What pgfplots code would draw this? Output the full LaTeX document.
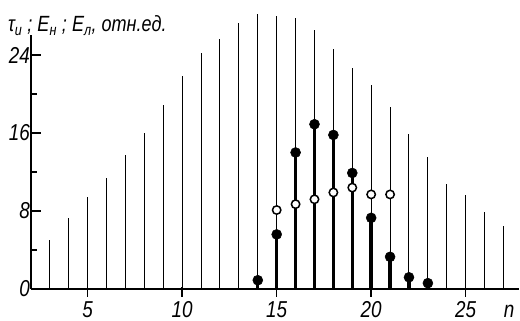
\documentclass[border=0pt]{standalone}
\usepackage{pgfplots}
\pgfplotsset{compat=1.18}
\usepackage{fontspec}
\setmainfont{Liberation Sans}
\newfontfamily\drafting{Liberation Sans}[FakeStretch=0.82]
\begin{document}
\begin{tikzpicture}
\begin{axis}[
  scale only axis, width=487.6pt, height=253.5pt,
  xmin=2, xmax=27.8, ymin=0, ymax=26,
  axis lines*=left,
  axis line style={line width=1.8pt},
  clip=false,
  xtick={5,10,15,20,25}, ytick={0,8,16,24}, minor ytick={4,12,20},
  tick align=inside,
  major tick length=10pt, minor tick length=6pt,
  tick style={line width=1.4pt, black},
  xtick style={yshift=-8pt},
  /pgf/number format/assume math mode=true,
  tick label style={font=\fontsize{23}{23}\selectfont\drafting\itshape},
  yticklabel style={inner sep=1pt},
  xticklabel style={inner sep=1pt, yshift=-11pt},
]
\addplot[ycomb, black, line width=1pt] coordinates {
 (3,5.0) (4,7.3) (5,9.4) (6,11.4) (7,13.7) (8,16.0) (9,18.9) (10,21.8)
 (11,24.2) (12,25.6) (13,27.3) (14,28.2) (15,28.0) (16,27.8) (17,26.6)
 (18,24.6) (19,22.7) (20,20.9) (21,18.7) (22,15.9) (23,13.5) (24,10.8)
 (25,9.6) (26,7.9) (27,6.5)};
\addplot[ycomb, black, line width=3.4pt, mark=*, mark size=5pt,
  mark options={fill=black, line width=0.5pt}] coordinates {
 (14,0.9) (15,5.6) (16,14.0) (17,16.9) (18,15.8) (19,11.9) (20,7.3)
 (21,3.3) (22,1.2) (23,0.6)};
\addplot[only marks, mark=*, mark size=4.2pt,
  mark options={fill=white, draw=black, line width=1.5pt}] coordinates {
 (15,8.1) (16,8.7) (17,9.2) (18,9.9) (19,10.4) (20,9.7) (21,9.7)};
\node[font=\fontsize{23}{23}\selectfont\drafting\itshape, anchor=north, inner sep=1pt] at (axis cs:27.3,0) [yshift=-15pt] {n};
\end{axis}
\node[anchor=base west, inner sep=0pt] at ([shift={(-23pt,257pt)}]current axis.south west)
  {\fontsize{22}{22}\selectfont\drafting\itshape τ\textsubscript{и} ; E\textsubscript{н} ; E\textsubscript{л}, отн.ед.};
\pgfresetboundingbox
\path[use as bounding box] ([shift={(-31pt,-32pt)}]current axis.south west) rectangle ++(520pt,321pt);
\end{tikzpicture}
\end{document}
